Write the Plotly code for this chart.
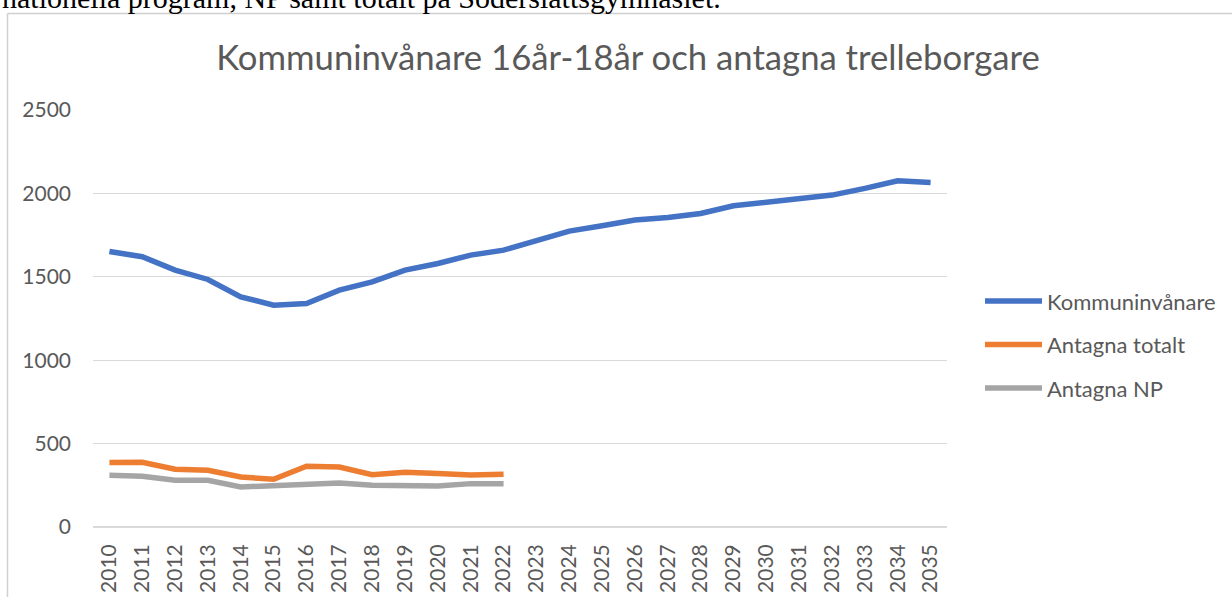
import plotly.graph_objects as go

years = [str(y) for y in range(2010, 2036)]
kommuninvanare = [1652, 1620, 1540, 1484, 1380, 1330, 1340, 1420, 1470, 1540, 1580, 1630, 1660,
                  1718, 1774, 1806, 1840, 1856, 1880, 1926, 1948, 1964, 1990, 2030, 2076, 2066]
antagna_totalt = [386, 388, 346, 340, 300, 286, 364, 360, 314, 328, 320, 312, 316]
antagna_np = [310, 304, 280, 280, 240, 246, 260, 264, 250, 250, 246, 260, 260]

W, H = 1232, 597
L, R, T, B = 93, 947, 110, 526.7

def px2x(px):
    return (px - L) / (R - L)

def py2y(py):
    return (B - py) / (B - T)

FONT = "Lato"
GRAY_TXT = "#595959"

fig = go.Figure()
fig.add_trace(go.Scatter(x=years, y=kommuninvanare, mode="lines", name="Kommuninvånare",
                         line=dict(color="#4472C4", width=5.5), legendgroup="a"))
fig.add_trace(go.Scatter(x=years[:len(antagna_totalt)], y=antagna_totalt, mode="lines", name="Antagna totalt",
                         line=dict(color="#ED7D31", width=5.5), legendgroup="b"))
fig.add_trace(go.Scatter(x=years[:len(antagna_np)], y=antagna_np, mode="lines", name="Antagna NP",
                         line=dict(color="#A5A5A5", width=5.5), legendgroup="c"))

fig.update_layout(
    width=W, height=H,
    margin=dict(l=L, r=W - R, t=T, b=H - B, autoexpand=False),
    paper_bgcolor="white", plot_bgcolor="white",
    font=dict(family=FONT, color=GRAY_TXT, size=21),
    title=dict(text="Kommuninvånare 16år-18år och antagna trelleborgare",
               x=628 / W, xref="container", xanchor="center",
               y=1 - 58 / H, yref="container", yanchor="middle",
               font=dict(family=FONT, size=34.7, color=GRAY_TXT)),
    showlegend=True,
    legend=dict(x=px2x(980), xanchor="left", y=py2y(280), yanchor="top",
                font=dict(family=FONT, size=22, color=GRAY_TXT),
                tracegroupgap=12, itemwidth=57, bgcolor="rgba(0,0,0,0)"),
    xaxis=dict(type="category", range=[-0.5, len(years) - 0.5], tickangle=-90,
               showgrid=False, showline=False, ticks="", zeroline=False,
               tickfont=dict(family=FONT, size=21, color=GRAY_TXT), ticklabelstandoff=12),
    yaxis=dict(range=[0, 2500], tickvals=[0, 500, 1000, 1500, 2000, 2500],
               showgrid=True, gridcolor="#D9D9D9", gridwidth=1.3, zeroline=True,
               zerolinecolor="#D9D9D9", zerolinewidth=1.5, showline=False, ticks="",
               tickfont=dict(family=FONT, size=21, color=GRAY_TXT), ticklabelstandoff=21),
)

# chart-area border (partially outside the captured page)
fig.add_shape(type="line", xref="paper", yref="paper", x0=px2x(7.5), x1=px2x(1260),
              y0=py2y(13.5), y1=py2y(13.5), line=dict(color="#D0D0D0", width=1.5), layer="below")
fig.add_shape(type="line", xref="paper", yref="paper", x0=px2x(7.5), x1=px2x(7.5),
              y0=py2y(13.5), y1=py2y(620), line=dict(color="#D0D0D0", width=1.5), layer="below")

# document text above the chart (cut off at top, as in the reference)
fig.add_annotation(text="nationella program, NP samt totalt på Söderslättsgymnasiet.",
                   xref="paper", yref="paper", x=px2x(0), xanchor="left",
                   y=py2y(-2), yanchor="middle", showarrow=False,
                   font=dict(family="Liberation Serif", size=30, color="black"))

fig.write_html("out.html", config={"displayModeBar": False},
               post_script="document.body.style.margin='0';")
